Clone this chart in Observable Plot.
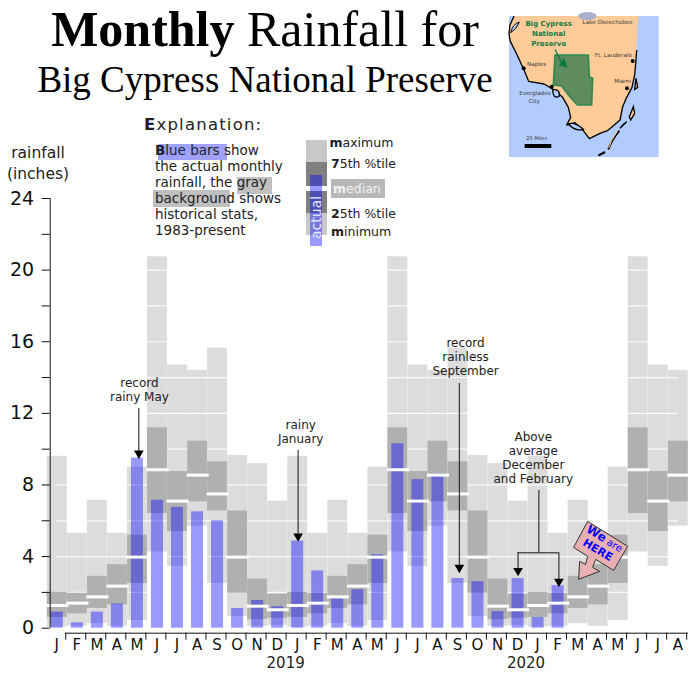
<!DOCTYPE html>
<html><head><meta charset="utf-8">
<script src="https://cdn.jsdelivr.net/npm/d3@7"></script>
<script src="https://cdn.jsdelivr.net/npm/@observablehq/plot@0.6"></script>
<style>
html,body{margin:0;padding:0;background:#fff}
#page{position:relative;width:700px;height:681px;overflow:hidden;font-family:"DejaVu Sans",sans-serif}
#chart svg{display:block;position:absolute;left:0;top:0;background:transparent}
#head{position:absolute;left:0;top:0;width:700px;height:260px;pointer-events:none}
</style></head><body>
<div id="page"><div id="chart"></div>
<svg id="head" viewBox="0 0 700 260" xmlns="http://www.w3.org/2000/svg">
  <g font-family="Liberation Serif" fill="#000" text-anchor="middle">
    <text x="265" y="46" font-size="50"><tspan font-weight="bold">Monthly</tspan> Rainfall for</text>
    <text x="265" y="92" font-size="37">Big Cypress National Preserve</text>
  </g>
  <g font-family="DejaVu Sans" fill="#222">
    <text x="38" y="158" font-size="15.5" text-anchor="middle">rainfall</text>
    <text x="38" y="179" font-size="15.5" text-anchor="middle">(inches)</text>
    <text x="144" y="130" font-size="16.5" letter-spacing="1.2"><tspan font-weight="bold">E</tspan>xplanation:</text>
    <rect x="158" y="144" width="69" height="16" fill="#a0a0ff"/>
    <rect x="237" y="177" width="35" height="17" fill="#c0c0c0"/>
    <rect x="153" y="190" width="77" height="17" fill="#c0c0c0"/>
    <g font-size="13.5">
      <text x="155" y="155"><tspan font-weight="bold">B</tspan>lue bars show</text>
      <text x="155" y="171">the actual monthly</text>
      <text x="155" y="187">rainfall, the gray</text>
      <text x="155" y="203">background shows</text>
      <text x="155" y="219">historical stats,</text>
      <text x="155" y="235">1983-present</text>
    </g>
    <rect x="306" y="140" width="21" height="95" fill="#c8c8c8"/>
    <rect x="306" y="162" width="21" height="51" fill="#808080"/>
    <rect x="306" y="186" width="21" height="5" fill="#fff"/>
    <rect x="310" y="175" width="12" height="71" fill="#0000ff" opacity="0.4"/>
    <text transform="translate(320.5,239) rotate(-90)" font-size="14" fill="#e8e8ff">actual</text>
    <rect x="331" y="179" width="54" height="19" fill="#b8b8b8"/>
    <g font-size="12.5">
      <text x="329.5" y="147"><tspan font-weight="bold">m</tspan>aximum</text>
      <text x="331" y="168"><tspan font-weight="bold">7</tspan>5th %tile</text>
      <text x="333" y="193" fill="#f2f2f2"><tspan font-weight="bold">m</tspan>edian</text>
      <text x="331" y="218"><tspan font-weight="bold">2</tspan>5th %tile</text>
      <text x="331" y="236"><tspan font-weight="bold">m</tspan>inimum</text>
    </g>
  </g>
  <svg x="500" y="10" width="170" height="150" viewBox="0 0 510 450">
    <rect x="27" y="18" width="449" height="423" fill="#b3ccff"/>
    <path d="M42,18 L415,18 L412,60 L410,110 L408,150 L404,195 L396,232 L380,262 L368,290 L360,330 L335,352 L322,362 L300,370 L268,386 L250,362 L225,338 L200,345 L212,322 L205,292 L188,262 L160,238 L132,222 L86,214 L72,180 L50,132 L30,92 L27,70 L30,45 Z" fill="#ffcc99"/>
    <path d="M42,18 L30,45 L27,70 L30,92 L50,132 L72,180 L86,214 L132,222 L160,238 L188,262 L205,292 L212,322 L200,345 L225,338 L250,362 L268,386 L300,370 L322,362 L335,352 L360,330 L368,290 L380,262 L396,232 L404,195 L408,150 L410,120" fill="none" stroke="#000" stroke-width="4" stroke-linejoin="round"/>
    <path d="M32,68 Q38,42 58,36 Q50,58 32,68 Z" fill="#b3ccff" stroke="#000" stroke-width="3"/>
    <ellipse cx="262" cy="18" rx="28" ry="12" fill="#a9b2cc"/>
    <path d="M160,225 L165,135 L265,135 L268,200 L278,205 L275,285 L232,285 L205,255 L185,228 Z" fill="#5e8c5e" stroke="#2f8a4f" stroke-width="5"/>
    <path d="M165,118 L190,170 M178,165 L200,170 L190,145" fill="#0f7a3f" stroke="#0f7a3f" stroke-width="4"/>
    <path d="M158,240 Q180,235 178,258 Q160,270 158,240 Z" fill="#b3ccff" stroke="#000" stroke-width="4"/>
    <path d="M205,342 Q225,335 250,358 Q225,365 205,342 Z" fill="#b3ccff" stroke="#000" stroke-width="4"/>
    <path d="M408,205 L413,232 L404,238 Z M400,290 L404,310 L392,330 L388,320 Z M380,335 L360,355 L368,345 Z" fill="#ffcc99" stroke="#000" stroke-width="4"/>
    <path d="M358,362 Q335,390 325,418 M315,426 L295,437" fill="none" stroke="#000" stroke-width="6"/>
    <path d="M352,364 Q332,392 326,414" fill="none" stroke="#ffcc99" stroke-width="3"/>
    <g fill="#000">
      <circle cx="71" cy="175" r="6"/><circle cx="155" cy="230" r="6"/><circle cx="398" cy="153" r="6"/><circle cx="381" cy="235" r="6"/>
      <rect x="74" y="402" width="80" height="12"/>
    </g>
    <g font-family="DejaVu Sans" font-size="17" fill="#3a3a3a" text-anchor="middle">
      <text x="323" y="43">Lake Okeechobee</text>
      <text x="340" y="140">Ft. Lauderale</text>
      <text x="110" y="169">Naples</text>
      <text x="105" y="255">Everglades</text>
      <text x="103" y="279">City</text>
      <text x="368" y="220">Miami</text>
      <text x="110" y="391" font-size="15">25 Miles</text>
    </g>
    <g font-family="DejaVu Sans" font-weight="bold" font-size="21" fill="#0f7a3f" text-anchor="middle">
      <text x="146" y="49">Big Cypress</text>
      <text x="146" y="79">National</text>
      <text x="146" y="108">Preserve</text>
    </g>
  </svg>
</svg>
</div>
<script>
// Historical stats per calendar month, Jan..Dec (inches)
const statMax = [9.6, 5.3, 7.15, 5.3, 9.0, 20.75, 14.7, 14.4, 15.65, 9.65, 9.2, 7.1];
const statQ3 = [2.0, 1.95, 2.9, 3.55, 5.2, 11.2, 8.75, 10.45, 9.3, 6.55, 2.75, 1.9];
const statMedian = [1.27, 1.4, 1.75, 2.35, 3.97, 8.85, 7.1, 8.55, 7.5, 3.97, 1.23, 1.03];
const statQ1 = [0.6, 0.8, 1.1, 1.3, 2.5, 6.4, 5.4, 7.05, 6.55, 1.95, 0.48, 0.55];
const statMin = [0.05, 0.1, 0.25, 0.1, 0.43, 4.25, 3.45, 5.7, 2.5, 0.65, 0.1, 0.15];
// Actual monthly rainfall from January 2018 to February 2020
const actual = [0.9, 0.3, 0.9, 1.35, 9.5, 7.15, 6.75, 6.5, 6.0, 1.1, 1.55, 1.2,
                4.87, 3.2, 1.65, 2.15, 4.1, 10.3, 8.3, 8.6, 2.77, 2.6, 0.93, 2.77,
                0.6, 2.37];
const monthLetters = ["J","F","M","A","M","J","J","A","S","O","N","D"];
const monthCount = 32;
const yearLabels = [{x: 11.9, label: "2019"}, {x: 23.9, label: "2020"}];
const notes = [
  {x: 4.6, y: 14.03, text: "record\nrainy May"},
  {x: 12.65, y: 11.7, text: "rainy\nJanuary"},
  {x: 20.88, y: 16.29, text: "record\nrainless\nSeptember"},
  {x: 24.26, y: 11.0, text: "Above\naverage\nDecember\nand February"}
];
const arrows = [
  {x: 4.57, from: 12.27, to: 9.6},
  {x: 12.52, from: 9.93, to: 4.97},
  {x: 20.57, from: 13.67, to: 3.22},
  {x: 23.5, from: 4.21, to: 3.04},
  {x: 25.54, from: 4.21, to: 2.44}
];

const months = d3.range(monthCount).map(i => ({
  i, m: i % 12,
  max: statMax[i % 12], q3: statQ3[i % 12], median: statMedian[i % 12],
  q1: statQ1[i % 12], min: statMin[i % 12]
}));
const bars = actual.map((v, i) => ({i, v}));
const gridLines = d3.range(2, 24, 2);
const edges = d3.range(1, monthCount + 1);

function signMark(index, {x, y}) {
  const g = d3.create("svg:g").attr("transform", `translate(${x(26.55)},${y(2.7)})`);
  g.append("path")
    .attr("d", "M0,0 L1,-18 L7,-15 L9,-23 L-5,-32 L9,-58 L49,-33 L35,-9 L17,-20 L14,-12 L21,-8 Z")
    .attr("fill", "#e8b0b0").attr("stroke", "#333").attr("stroke-width", 1);
  const t = g.append("g").attr("transform", "translate(22,-34) rotate(31)")
    .attr("text-anchor", "middle").attr("fill", "#0000ff").attr("font-family", "DejaVu Sans");
  t.append("text").attr("y", -4).attr("font-size", 10).html('<tspan font-weight="bold" font-size="12">We</tspan> are');
  t.append("text").attr("y", 9).attr("font-size", 11).attr("font-weight", "bold").text("HERE");
  return g.node();
}

const plot = Plot.plot({
  width: 700, height: 681,
  marginTop: 198, marginBottom: 53.3, marginLeft: 49.7, marginRight: 10,
  style: {fontFamily: "DejaVu Sans", background: "transparent", color: "#111"},
  x: {type: "linear", domain: [0, monthCount], range: [46.8, 687.8], axis: null},
  y: {type: "linear", domain: [0, 24], axis: null},
  marks: [
    Plot.rectY(months, {x1: "i", x2: d => d.i + 1, y1: "min", y2: "max", fill: "#dcdcdc", stroke: "#fff", strokeOpacity: 0.3, strokeWidth: 0.5}),
    Plot.ruleY(gridLines, {x1: 0.5, x2: 31.5, stroke: "#fff", strokeWidth: 1.2, strokeOpacity: 0.85}),
    Plot.rectY(months, {x1: "i", x2: d => d.i + 1, y1: "q1", y2: "q3", fill: "#b0b0b0", stroke: "#fff", strokeOpacity: 0.15, strokeWidth: 0.5}),
    Plot.rectY(bars, {x1: d => d.i + 0.2, x2: d => d.i + 0.8, y1: 0, y2: "v", fill: "#0000ff", fillOpacity: 0.4}),
    Plot.ruleY(months, {x1: d => d.i - 0.02, x2: d => d.i + 1.08, y: "median", stroke: "#fff", strokeWidth: 3}),
    Plot.ruleX([0], {y1: 0, y2: 24, dx: 2.9, stroke: "#111", strokeWidth: 1}),
    Plot.axisY({ticks: d3.range(0, 25, 2), tickSize: 8, tickPadding: 8, fontSize: 19, anchor: "left", stroke: "#111",
      tickFormat: d => d % 4 === 0 ? d : ""}),
    Plot.axisX({ticks: d3.range(monthCount).map(i => i + 0.5), tickSize: 0, tickPadding: 11, fontSize: 15, anchor: "bottom", dx: -0.5,
      tickFormat: v => monthLetters[Math.floor(v) % 12]}),
    Plot.ruleY([0], {x1: 0.92, x2: monthCount, dy: 5, stroke: "#111", strokeWidth: 1}),
    Plot.axisX({ticks: edges.map(d => d - 0.08), tickSize: 7, dy: 5, anchor: "bottom", stroke: "#111", tickFormat: () => ""}),
    Plot.text(yearLabels, {x: "x", y: 0, text: "label", dy: 35, fontSize: 15, fill: "#222"}),
    Plot.ruleX(arrows, {x: "x", y1: "from", y2: "to", stroke: "#111", strokeWidth: 1}),
    Plot.ruleY([4.21], {x1: 23.5, x2: 25.54, stroke: "#111", strokeWidth: 1}),
    Plot.ruleX([24.54], {y1: 4.21, y2: 7.69, stroke: "#111", strokeWidth: 1}),
    Plot.dot(arrows, {x: "x", y: "to", dy: -3, symbol: "triangle", rotate: 180, r: 3.6, fill: "#000"}),
    Plot.text(notes, {x: "x", y: "y", text: "text", fontSize: 12, lineHeight: 1.17, lineAnchor: "top", fill: "#222"}),
    signMark
  ]
});
document.getElementById("chart").append(plot);
</script>
</body></html>
